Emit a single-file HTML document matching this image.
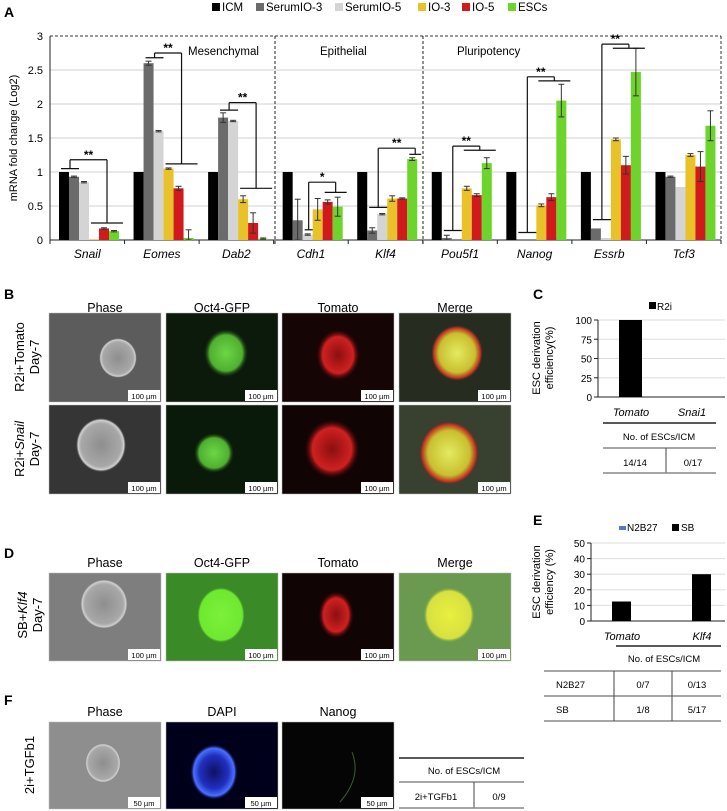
<!DOCTYPE html>
<html><head><meta charset="utf-8"><style>
body{margin:0;background:#fff;}
svg{display:block;font-family:"Liberation Sans",sans-serif;}
</style></head><body>
<svg id="fig" width="727" height="811" viewBox="0 0 727 811">
<defs>
<radialGradient id="gPhase" cx="50%" cy="50%" r="50%"><stop offset="0" stop-color="#8e8e8e"/><stop offset="0.8" stop-color="#a8a8a8"/><stop offset="0.92" stop-color="#d0d0d0"/><stop offset="1" stop-color="#5e5e5e" stop-opacity="0"/></radialGradient>
<radialGradient id="gGreen" cx="50%" cy="50%" r="50%"><stop offset="0" stop-color="#6cd646"/><stop offset="0.75" stop-color="#4fb030"/><stop offset="1" stop-color="#1a3a10" stop-opacity="0"/></radialGradient>
<radialGradient id="gRed" cx="50%" cy="50%" r="50%"><stop offset="0" stop-color="#8a1010"/><stop offset="0.7" stop-color="#d02020"/><stop offset="1" stop-color="#300" stop-opacity="0"/></radialGradient>
<radialGradient id="gMerge" cx="50%" cy="50%" r="50%"><stop offset="0" stop-color="#e4ea60"/><stop offset="0.7" stop-color="#c8c030"/><stop offset="0.9" stop-color="#c03020"/><stop offset="1" stop-color="#333" stop-opacity="0"/></radialGradient>
<radialGradient id="gBright" cx="50%" cy="50%" r="50%"><stop offset="0" stop-color="#7cf03a"/><stop offset="0.9" stop-color="#6ee830"/><stop offset="1" stop-color="#3a8a20" stop-opacity="0"/></radialGradient>
<radialGradient id="gYel" cx="50%" cy="50%" r="50%"><stop offset="0" stop-color="#e8f040"/><stop offset="0.85" stop-color="#d8e040"/><stop offset="1" stop-color="#5a9a40" stop-opacity="0"/></radialGradient>
<radialGradient id="gDapi" cx="50%" cy="50%" r="50%"><stop offset="0" stop-color="#101060"/><stop offset="0.6" stop-color="#2030c0"/><stop offset="0.85" stop-color="#4a70ff"/><stop offset="1" stop-color="#000030" stop-opacity="0"/></radialGradient>
</defs>
<g id="panelA"></g>
<g id="panelB"></g>
<g id="panelC"></g>
<g id="panelE"></g>
</svg>
<script>
// ---------- Panel A data ----------
const catsA = ["Snail","Eomes","Dab2","Cdh1","Klf4","Pou5f1","Nanog","Essrb","Tcf3"];
const seriesA = ["ICM","SerumIO-3","SerumIO-5","IO-3","IO-5","ESCs"];
const colorsA = ["#000000","#6b6b6b","#d4d4d4","#e8c228","#d01a1c","#6cd42a"];
const valICM   = [1,1,1,1,1,1,1,1,1];
const valSIO3  = [0.93,2.6,1.8,0.29,0.14,0.03,0,0.17,0.93];
const valSIO5  = [0.85,1.6,1.75,0.08,0.38,0,0,0.03,0.78];
const valIO3   = [0.01,1.05,0.6,0.45,0.61,0.76,0.51,1.48,1.25];
const valIO5   = [0.17,0.76,0.25,0.56,0.61,0.66,0.63,1.1,1.08];
const valESC   = [0.13,0.03,0.02,0.49,1.19,1.13,2.05,2.47,1.68];
const errICM   = [0,0,0,0,0,0,0,0,0];
const errSIO3  = [0.01,0.03,0.07,0.31,0.04,0.04,0,0,0.01];
const errSIO5  = [0.01,0.01,0.01,0.01,0.01,0,0,0,0];
const errIO3   = [0,0.01,0.05,0.16,0.04,0.03,0.02,0.02,0.02];
const errIO5   = [0.01,0.03,0.15,0.03,0.01,0.02,0.05,0.13,0.22];
const errESC   = [0.01,0.12,0.01,0.14,0.02,0.08,0.24,0.35,0.22];
const ticksA = [0,0.5,1,1.5,2,2.5,3];
const tickLabelsA = ["0","0.5","1","1.5","2","2.5","3"];
const bracketsA = [
 [0,0,1,1.05,1.18,0,3,5,0.25,"**"],
 [1,1,2,2.68,2.75,1,3,5,1.12,"**"],
 [2,1,2,1.91,2.02,2,3,5,0.76,"**"],
 [3,2,2,0.15,0.85,3,4,5,0.70,"*"],
 [4,1,2,0.48,1.35,4,5,5,1.26,"**"],
 [5,1,2,0.14,1.38,5,3,5,1.32,"**"],
 [6,1,2,0.11,2.40,6,3,5,2.34,"**"],
 [7,1,2,0.30,2.88,7,3,5,2.82,"**"]
];
const valsA=[valICM,valSIO3,valSIO5,valIO3,valIO5,valESC];
const errsA=[errICM,errSIO3,errSIO5,errIO3,errIO5,errESC];

const NS="http://www.w3.org/2000/svg";
function mk(tag,attrs,parent,text){const e=document.createElementNS(NS,tag);for(const k in attrs)e.setAttribute(k,attrs[k]);if(text!==undefined)e.textContent=text;parent.appendChild(e);return e;}

const A=document.getElementById('panelA');
const pL=50,pR=721,y0=240,yTop=36,gW=(pR-pL)/9,bW=10;
const yA=v=>y0-v*(y0-yTop)/3;
const xBar=(g,s)=>pL+g*gW+9+s*bW;
const xMid=(g,s)=>xBar(g,s)+bW/2;

let t=mk('text',{x:4,y:17,'font-weight':'bold','font-size':14},A,"A");


const legX=[212,256,335,418,462,508];
seriesA.forEach((s,i)=>{
  const g=mk('g',{},A);
  
  
  mk('rect',{x:legX[i],y:3,width:8,height:8,fill:colorsA[i]},g);
  mk('text',{x:legX[i]+10,y:11,'font-size':11.5},g,s);
});
ticksA.forEach((v,i)=>{
  if(v>0&&v<3){const l=mk('line',{x1:pL,x2:pR,y1:yA(v),y2:yA(v),stroke:'#d0d0d0','stroke-width':1},A);
  }
  const tt=mk('text',{x:43,y:yA(v)+4,'text-anchor':'end','font-size':11},A,tickLabelsA[i]);
  
});
t=mk('text',{x:0,y:0,transform:'translate(17,138) rotate(-90)','text-anchor':'middle','font-size':11},A,"mRNA  fold change (Log2)");

mk('line',{x1:pL,x2:pL,y1:yTop,y2:y0,stroke:'#222','stroke-width':1},A);
mk('line',{x1:pL,x2:pR,y1:y0,y2:y0,stroke:'#222','stroke-width':1},A);
mk('line',{x1:pL,x2:pR,y1:yTop,y2:yTop,stroke:'#333','stroke-dasharray':'3,2'},A);
mk('line',{x1:pR,x2:pR,y1:yTop,y2:y0,stroke:'#333','stroke-dasharray':'3,2'},A);
[275,423].forEach(x=>{const l=mk('line',{x1:x,x2:x,y1:yTop,y2:y0+4,stroke:'#222','stroke-dasharray':'3,2'},A);
});
for(let g=0;g<=9;g++)mk('line',{x1:pL+g*gW,x2:pL+g*gW,y1:y0,y2:y0+4,stroke:'#222'},A);
[["Mesenchymal",188],["Epithelial",320],["Pluripotency",457]].forEach(([s,x])=>{
  const tt=mk('text',{x:x,y:55,'font-size':11.5},A,s);
  });
catsA.forEach((c,g)=>{
  seriesA.forEach((s,si)=>{
    const v=valsA[si][g];
    const r=mk('rect',{x:xBar(g,si),y:yA(v),width:bW,height:Math.max(0,y0-yA(v)),fill:colorsA[si]},A);
    
    
    const e=errsA[si][g];
    if(e>0){const cx=xMid(g,si);
      mk('line',{x1:cx,x2:cx,y1:yA(v+e),y2:yA(Math.max(0,v-e)),stroke:'#333'},A);
      mk('line',{x1:cx-3,x2:cx+3,y1:yA(v+e),y2:yA(v+e),stroke:'#333'},A);
      mk('line',{x1:cx-3,x2:cx+3,y1:yA(Math.max(0,v-e)),y2:yA(Math.max(0,v-e)),stroke:'#333'},A);}
  });
  const tt=mk('text',{x:pL+(g+0.5)*gW,y:258,'text-anchor':'middle','font-size':12,'font-style':'italic'},A,c);
  
});
bracketsA.forEach(b=>{
  const [g,ls,le,ly,ty,g2,rs,re,ry,lab]=b;
  const bg=mk('g',{stroke:'#111','stroke-width':1.2,fill:'none'},A);
  
  
  const lx1=xBar(g,ls)+2,lx2=xBar(g,le)+bW,lm=(lx1+lx2)/2;
  const rx1=xBar(g2,rs)+2,rx2=xBar(g2,re)+bW+4,rm=(rx1+rx2)/2;
  mk('line',{x1:lx1,x2:lx2,y1:yA(ly),y2:yA(ly)},bg);
  mk('line',{x1:lm,x2:lm,y1:yA(ly),y2:yA(ty)},bg);
  mk('line',{x1:lm,x2:rm,y1:yA(ty),y2:yA(ty)},bg);
  mk('line',{x1:rm,x2:rm,y1:yA(ty),y2:yA(ry)},bg);
  mk('line',{x1:rx1,x2:rx2,y1:yA(ry),y2:yA(ry)},bg);
  const st=mk('text',{x:(lm+rm)/2,y:yA(ty)-1,'text-anchor':'middle','font-size':12,'font-weight':'bold'},A,lab);
  
});

// ---------- Micrograph panels ----------
const B=document.getElementById('panelB');
const colX=[49,166,282,399],colW=112;
function panelLabel(s,x,y){const e=mk('text',{x:x,y:y,'font-weight':'bold','font-size':14},B,s);
 }
function header(s,x,y){const e=mk('text',{x:x,y:y,'text-anchor':'middle','font-size':12.5},B,s);
 }
function img(x,y,w,h,bg,grad,cx,cy,rx,ry,scale,name){
  const g=mk('g',{},B);
  
  
  mk('rect',{x:x,y:y,width:w,height:h,fill:bg,stroke:'#bbb','stroke-width':0.5},g);
  mk('ellipse',{cx:x+cx,cy:y+cy,rx:rx,ry:ry,fill:'url(#'+grad+')'},g);
  mk('rect',{x:x+w-33,y:y+h-12,width:32,height:11,fill:'#fff'},g);
  mk('text',{x:x+w-17,y:y+h-3,'text-anchor':'middle','font-size':7.5},g,scale);
}
function rowLabel(lines,cx,cy){const g=mk('text',{transform:`translate(${cx},${cy}) rotate(-90)`,'text-anchor':'middle','font-size':13},B);
 
 lines.forEach((l,i)=>{const ts=mk('tspan',{x:0,dy:i?15:0},g);ts.innerHTML=l;});}

panelLabel("B",4,299);
["Phase","Oct4-GFP","Tomato","Merge"].forEach((s,i)=>header(s,colX[i]+colW/2,312));
const r1=313,r2=405,rh=89;
img(colX[0],r1,colW,rh,'#5c5c5c','gPhase',69,45,19,20,'100 µm','image-b-phase-tomato');
img(colX[1],r1,colW,rh,'#0c1a0c','gGreen',60,40,22,24,'100 µm','image-b-gfp-tomato');
img(colX[2],r1,colW,rh,'#150505','gRed',56,42,22,26,'100 µm','image-b-tomato-tomato');
img(colX[3],r1,colW,rh,'#262c20','gMerge',58,40,26,28,'100 µm','image-b-merge-tomato');
img(colX[0],r2,colW,rh,'#353535','gPhase',52,40,25,27,'100 µm','image-b-phase-snail');
img(colX[1],r2,colW,rh,'#0a1a0a','gGreen',48,48,20,20,'100 µm','image-b-gfp-snail');
img(colX[2],r2,colW,rh,'#100404','gRed',50,44,28,30,'100 µm','image-b-tomato-snail');
img(colX[3],r2,colW,rh,'#384030','gMerge',50,48,30,32,'100 µm','image-b-merge-snail');
rowLabel(["R2i+Tomato","Day-7"],24,357);
rowLabel(["R2i+<tspan font-style='italic'>Snail</tspan>","Day-7"],24,449);

panelLabel("D",4,558);
["Phase","Oct4-GFP","Tomato","Merge"].forEach((s,i)=>header(s,colX[i]+colW/2,567));
const r3=573;
img(colX[0],r3,colW,88,'#7e7e7e','gPhase',55,31,24,25,'100 µm','image-d-phase');
img(colX[1],r3,colW,88,'#3a8a28','gBright',55,42,24,28,'100 µm','image-d-gfp');
img(colX[2],r3,colW,88,'#100404','gRed',54,42,18,24,'100 µm','image-d-tomato');
img(colX[3],r3,colW,88,'#6a9a50','gYel',50,42,26,28,'100 µm','image-d-merge');
rowLabel(["SB+<tspan font-style='italic'>Klf4</tspan>","Day-7"],27,615);

panelLabel("F",4,705);
["Phase","DAPI","Nanog"].forEach((s,i)=>header(s,colX[i]+colW/2,716));
const r4=722;
img(colX[0],r4,colW,87,'#8e8e8e','gPhase',54,41,18,20,'50 µm','image-f-phase');
img(colX[1],r4,colW,87,'#00001a','gDapi',48,50,24,28,'50 µm','image-f-dapi');
img(colX[2],r4,colW,87,'#050505','gPhase',50,45,0,0,'50 µm','image-f-nanog');
mk('path',{d:`M${colX[2]+70},${r4+30} q10,25 -12,50`,stroke:'#2a6a1a',fill:'none','stroke-width':1},B);
rowLabel(["2i+TGFb1"],34,765);
const tf=mk('g',{'font-size':9.5},B);

mk('line',{x1:399,x2:524,y1:758,y2:758,stroke:'#222','stroke-width':1.5},tf);
mk('text',{x:464,y:774,'text-anchor':'middle'},tf,"No. of ESCs/ICM");
mk('line',{x1:399,x2:524,y1:782,y2:782,stroke:'#888','stroke-width':1.5},tf);
mk('text',{x:436,y:800,'text-anchor':'middle'},tf,"2i+TGFb1");
mk('text',{x:499,y:800,'text-anchor':'middle'},tf,"0/9");
mk('line',{x1:474,x2:474,y1:782,y2:808,stroke:'#444'},tf);
mk('line',{x1:399,x2:524,y1:808,y2:808,stroke:'#888','stroke-width':1.5},tf);

// ---------- Panel C ----------
const catsC=["Tomato","Snai1"];
const valC=[100,0];
const ticksC=[0,25,50,75,100];
const C=document.getElementById('panelC');
const yC=v=>397-v*0.77;
const barXC=[619,680];
t=mk('text',{x:533,y:299,'font-weight':'bold','font-size':14},C,"C");

let lg=mk('g',{},C);
mk('rect',{x:649,y:302,width:7,height:7,fill:'#000'},lg);mk('text',{x:657,y:310,'font-size':10},lg,"R2i");
ticksC.forEach(v=>{
  if(v>0){const l=mk('line',{x1:598,x2:725,y1:yC(v),y2:yC(v),stroke:'#ddd'},C);}
  mk('line',{x1:594,x2:598,y1:yC(v),y2:yC(v),stroke:'#222'},C);
  const tt=mk('text',{x:592,y:yC(v)+4,'text-anchor':'end','font-size':10},C,String(v));
  
});
mk('line',{x1:598,x2:598,y1:yC(100),y2:yC(0),stroke:'#222'},C);
mk('line',{x1:598,x2:725,y1:yC(0),y2:yC(0),stroke:'#222'},C);
t=mk('text',{transform:'translate(546,358) rotate(-90)','text-anchor':'middle','font-size':11},C);

mk('tspan',{x:0,dy:-6},t,"ESC derivation");mk('tspan',{x:0,dy:13},t,"efficiency(%)");
valC.forEach((v,i)=>{const r=mk('rect',{x:barXC[i],y:yC(v),width:23,height:yC(0)-yC(v),fill:'#000'},C);
  
  const tt=mk('text',{x:barXC[i]+12,y:416,'text-anchor':'middle','font-size':11,'font-style':'italic'},C,catsC[i]);
  });
const tc=mk('g',{'font-size':9.5},C);
mk('line',{x1:603,x2:716,y1:423,y2:423,stroke:'#222','stroke-width':1.5},tc);
mk('text',{x:659,y:440,'text-anchor':'middle'},tc,"No. of ESCs/ICM");
mk('line',{x1:603,x2:716,y1:448,y2:448,stroke:'#888','stroke-width':1.5},tc);
mk('text',{x:635,y:466,'text-anchor':'middle'},tc,"14/14");
mk('text',{x:693,y:466,'text-anchor':'middle'},tc,"0/17");
mk('line',{x1:666,x2:666,y1:448,y2:473,stroke:'#444'},tc);
mk('line',{x1:603,x2:716,y1:473,y2:473,stroke:'#888','stroke-width':1.5},tc);

// ---------- Panel E ----------
const catsE=["Tomato","Klf4"];
const valN2B27=[0,0];
const valSB=[12.5,30];
const ticksE=[0,10,20,30,40,50];
const E=document.getElementById('panelE');
const yE=v=>621-v*1.56;
const barXE=[612,692];
t=mk('text',{x:533,y:525,'font-weight':'bold','font-size':14},E,"E");

lg=mk('g',{},E);
mk('rect',{x:619,y:526,width:7,height:4,fill:'#5a78c0'},lg);mk('text',{x:627,y:531,'font-size':10},lg,"N2B27");
lg=mk('g',{},E);
mk('rect',{x:672,y:524,width:7,height:7,fill:'#000'},lg);mk('text',{x:681,y:531,'font-size':10},lg,"SB");
ticksE.forEach(v=>{
  if(v>0){const l=mk('line',{x1:591,x2:725,y1:yE(v),y2:yE(v),stroke:'#ddd'},E);}
  mk('line',{x1:587,x2:591,y1:yE(v),y2:yE(v),stroke:'#222'},E);
  const tt=mk('text',{x:585,y:yE(v)+4,'text-anchor':'end','font-size':10},E,String(v));
  
});
mk('line',{x1:591,x2:591,y1:yE(50),y2:yE(0),stroke:'#222'},E);
mk('line',{x1:591,x2:725,y1:yE(0),y2:yE(0),stroke:'#222'},E);
t=mk('text',{transform:'translate(546,582) rotate(-90)','text-anchor':'middle','font-size':11},E);

mk('tspan',{x:0,dy:-6},t,"ESC derivation");mk('tspan',{x:0,dy:13},t,"efficiency (%)");
catsE.forEach((c,i)=>{
  const r0=mk('rect',{x:barXE[i]-19,y:yE(valN2B27[i]),width:19,height:yE(0)-yE(valN2B27[i]),fill:'#5a78c0'},E);
  
  const r=mk('rect',{x:barXE[i],y:yE(valSB[i]),width:19,height:yE(0)-yE(valSB[i]),fill:'#000'},E);
  
  const tt=mk('text',{x:barXE[i]+10,y:640,'text-anchor':'middle','font-size':11,'font-style':'italic'},E,c);
  
});
const te=mk('g',{'font-size':9.5},E);
mk('line',{x1:616,x2:721,y1:646,y2:646,stroke:'#222','stroke-width':1.5},te);
mk('text',{x:664,y:662,'text-anchor':'middle'},te,"No. of ESCs/ICM");
mk('line',{x1:544,x2:721,y1:671,y2:671,stroke:'#888','stroke-width':1.5},te);
mk('text',{x:556,y:688},te,"N2B27");mk('text',{x:643,y:688,'text-anchor':'middle'},te,"0/7");mk('text',{x:697,y:688,'text-anchor':'middle'},te,"0/13");
mk('line',{x1:544,x2:721,y1:696,y2:696,stroke:'#888','stroke-width':1.5},te);
mk('text',{x:556,y:713},te,"SB");mk('text',{x:643,y:713,'text-anchor':'middle'},te,"1/8");mk('text',{x:697,y:713,'text-anchor':'middle'},te,"5/17");
mk('line',{x1:544,x2:721,y1:721,y2:721,stroke:'#888','stroke-width':1.5},te);
mk('line',{x1:614,x2:614,y1:671,y2:721,stroke:'#444'},te);
mk('line',{x1:672,x2:672,y1:671,y2:721,stroke:'#444'},te);
</script>
</body></html>
